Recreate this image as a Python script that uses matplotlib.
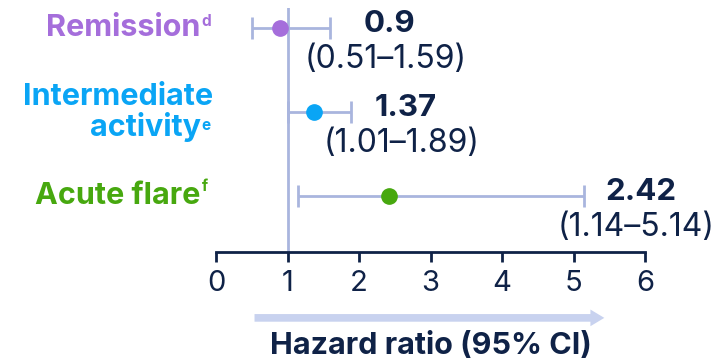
import matplotlib
matplotlib.use("Agg")
import matplotlib.pyplot as plt

plt.rcParams['font.family'] = ['Inter', 'DejaVu Sans']

groups = ["Remission", "Intermediate\nactivity", "Acute flare"]
sups = ["d", "e", "f"]
hr = [0.9, 1.37, 2.42]
ci_low = [0.51, 1.01, 1.14]
ci_high = [1.59, 1.89, 5.14]
hr_text = ["0.9", "1.37", "2.42"]
ci_text = ["(0.51–1.59)", "(1.01–1.89)", "(1.14–5.14)"]
ticks = [0, 1, 2, 3, 4, 5, 6]

colors = ["#a56edb", "#0aa5f5", "#47a80f"]
navy = "#0f2247"
light = "#a9b5de"

# where the value labels sit (layout only)
hr_x = [2.06, 2.22, 5.44]
ci_x = [1.245, 1.50, 4.78]
sup_dy = [5, -10, 7]

fig = plt.figure(figsize=(7.19, 3.62), dpi=100)
ax = fig.add_axes([216 / 719, 110 / 362, 429 / 719, 244 / 362])

ax.axvline(1, color=light, lw=2, zorder=1)

for i in range(len(hr)):
    ax.errorbar(hr[i], i, xerr=[[hr[i] - ci_low[i]], [ci_high[i] - hr[i]]],
                fmt="o", color=light, ecolor=light, elinewidth=2, capsize=8,
                capthick=2, markersize=11, markerfacecolor=colors[i],
                markeredgecolor=colors[i], zorder=3)
    ax.annotate(hr_text[i], (hr_x[i], i), xytext=(0, 3), textcoords="offset points",
                ha="left", va="center", fontsize=22.5, fontweight="bold", color=navy)
    ax.annotate(ci_text[i], (ci_x[i], i), xytext=(0, -23), textcoords="offset points",
                ha="left", va="center", fontsize=23, color=navy, annotation_clip=False)

# row labels with superscripts
for i, g in enumerate(groups):
    lines = g.split("\n")
    n = len(lines)
    for j, line in enumerate(lines):
        dy = (n - 1) * 11 - j * 22
        dx = -11 if j == n - 1 else -2
        ax.annotate(line, (0, i), xytext=(dx, dy), textcoords="offset points",
                    ha="right", va="center", fontsize=22,
                    fontweight="bold", color=colors[i])
    ax.annotate(sups[i], (0, i), xytext=(-10.5, sup_dy[i]), textcoords="offset points",
                ha="left", va="center", fontsize=11, fontweight="bold", color=colors[i])

ax.set_xlim(0, 6)
ax.set_ylim(2.667, -0.238)
ax.set_xticks(ticks)
ax.set_xticklabels([str(t) for t in ticks])
ax.set_yticks([])
for s in ["left", "top", "right"]:
    ax.spines[s].set_visible(False)
ax.spines["bottom"].set_color(navy)
ax.spines["bottom"].set_linewidth(2)
ax.tick_params(axis="x", length=7, width=2, color=navy, pad=6,
               labelsize=21, labelcolor=navy)

ax.annotate("", xy=(5.47, -0.27), xytext=(0.5, -0.27),
            xycoords=("data", "axes fraction"), textcoords=("data", "axes fraction"),
            arrowprops=dict(arrowstyle="simple,head_length=1.0,head_width=1.2,tail_width=0.55",
                            mutation_scale=10, color="#c8d2ef", lw=0))
ax.text(0.5, -0.385, "Hazard ratio (95% CI)", transform=ax.transAxes,
        ha="center", va="center", fontsize=22, fontweight="bold", color=navy)

fig.savefig("out.png", dpi=100)
